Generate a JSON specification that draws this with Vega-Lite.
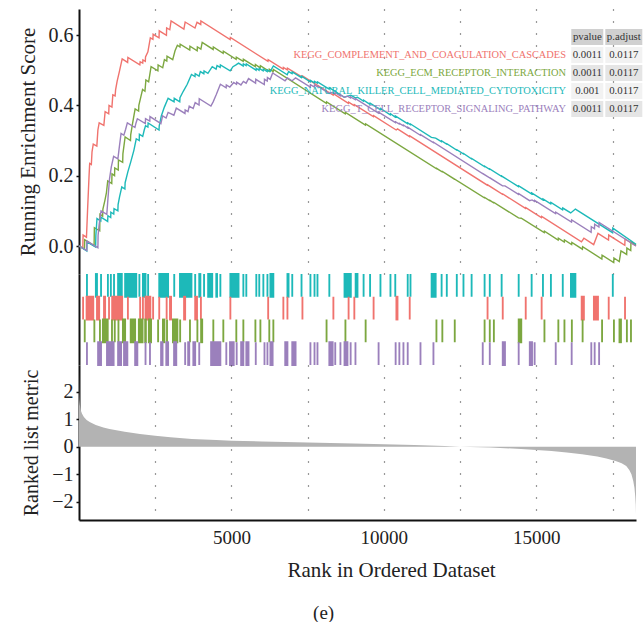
{
  "$schema": "https://vega.github.io/schema/vega-lite/v6.json",
  "padding": {"left": 17, "top": 9, "right": 0, "bottom": 0},
  "autosize": {"type": "pad"},
  "config": {
    "font": "Liberation Serif",
    "view": {"stroke": null},
    "axis": {"labelFont": "Liberation Serif", "titleFont": "Liberation Serif", "titleFontWeight": "normal", "labelColor": "#222222", "titleColor": "#222222"}
  },
  "spacing": 0,
  "bounds": "flush",
  "title": {"text": "(e)", "orient": "bottom", "anchor": "middle", "fontSize": 19, "font": "Liberation Serif", "fontWeight": "normal", "color": "#222222", "offset": 24, "dx": -6},
  "datasets": {
    "table": [
      {"row": 0, "code": "H", "set": "", "pvalue": "pvalue", "padjust": "p.adjust"},
      {"row": 1, "code": "C", "set": "KEGG_COMPLEMENT_AND_COAGULATION_CASCADES", "pvalue": "0.0011", "padjust": "0.0117"},
      {"row": 2, "code": "E", "set": "KEGG_ECM_RECEPTOR_INTERACTION", "pvalue": "0.0011", "padjust": "0.0117"},
      {"row": 3, "code": "N", "set": "KEGG_NATURAL_KILLER_CELL_MEDIATED_CYTOTOXICITY", "pvalue": "0.001", "padjust": "0.0117"},
      {"row": 4, "code": "T", "set": "KEGG_T_CELL_RECEPTOR_SIGNALING_PATHWAY", "pvalue": "0.0011", "padjust": "0.0117"}
    ],
    "es": [
      {"g":"C","rank":0,"es":0},{"g":"C","rank":125,"es":-0.006},{"g":"C","rank":134,"es":0.031},{"g":"C","rank":245,"es":0.025},{"g":"C","rank":280,"es":0.1},{"g":"C","rank":330,"es":0.2},{"g":"C","rank":350,"es":0.235},{"g":"C","rank":405,"es":0.232},{"g":"C","rank":427,"es":0.268},{"g":"C","rank":468,"es":0.29},{"g":"C","rank":585,"es":0.284},{"g":"C","rank":620,"es":0.33},{"g":"C","rank":662,"es":0.35},{"g":"C","rank":815,"es":0.343},{"g":"C","rank":857,"es":0.382},{"g":"C","rank":975,"es":0.376},{"g":"C","rank":985,"es":0.4},{"g":"C","rank":1080,"es":0.395},{"g":"C","rank":1110,"es":0.43},{"g":"C","rank":1185,"es":0.427},{"g":"C","rank":1200,"es":0.444},{"g":"C","rank":1250,"es":0.468},{"g":"C","rank":1324,"es":0.496},{"g":"C","rank":1416,"es":0.532},{"g":"C","rank":1595,"es":0.522},{"g":"C","rank":1604,"es":0.536},{"g":"C","rank":1995,"es":0.515},{"g":"C","rank":2006,"es":0.524},{"g":"C","rank":2090,"es":0.52},{"g":"C","rank":2097,"es":0.529},{"g":"C","rank":2175,"es":0.525},{"g":"C","rank":2182,"es":0.538},{"g":"C","rank":2260,"es":0.552},{"g":"C","rank":2340,"es":0.592},{"g":"C","rank":2425,"es":0.588},{"g":"C","rank":2431,"es":0.602},{"g":"C","rank":2625,"es":0.592},{"g":"C","rank":2632,"es":0.612},{"g":"C","rank":2868,"es":0.599},{"g":"C","rank":2875,"es":0.62},{"g":"C","rank":2978,"es":0.615},{"g":"C","rank":3020,"es":0.64},{"g":"C","rank":3440,"es":0.617},{"g":"C","rank":3482,"es":0.637},{"g":"C","rank":3805,"es":0.62},{"g":"C","rank":3871,"es":0.636},{"g":"C","rank":3993,"es":0.63},{"g":"C","rank":3999,"es":0.64},{"g":"C","rank":4958,"es":0.587},{"g":"C","rank":4965,"es":0.593},{"g":"C","rank":6198,"es":0.525},{"g":"C","rank":6205,"es":0.53},{"g":"C","rank":6696,"es":0.503},{"g":"C","rank":6703,"es":0.508},{"g":"C","rank":6830,"es":0.501},{"g":"C","rank":6837,"es":0.506},{"g":"C","rank":7322,"es":0.48},{"g":"C","rank":7329,"es":0.484},{"g":"C","rank":8337,"es":0.429},{"g":"C","rank":8344,"es":0.433},{"g":"C","rank":8836,"es":0.406},{"g":"C","rank":8843,"es":0.409},{"g":"C","rank":9024,"es":0.399},{"g":"C","rank":9031,"es":0.402},{"g":"C","rank":9656,"es":0.368},{"g":"C","rank":9663,"es":0.371},{"g":"C","rank":10404,"es":0.33},{"g":"C","rank":10447,"es":0.333},{"g":"C","rank":10841,"es":0.311},{"g":"C","rank":10848,"es":0.313},{"g":"C","rank":13394,"es":0.173},{"g":"C","rank":13401,"es":0.174},{"g":"C","rank":13892,"es":0.147},{"g":"C","rank":13899,"es":0.148},{"g":"C","rank":14646,"es":0.107},{"g":"C","rank":14653,"es":0.109},{"g":"C","rank":15168,"es":0.081},{"g":"C","rank":15175,"es":0.084},{"g":"C","rank":16481,"es":0.012},{"g":"C","rank":16561,"es":0.022},{"g":"C","rank":16882,"es":0.004},{"g":"C","rank":17023,"es":0.036},{"g":"C","rank":17368,"es":0.017},{"g":"C","rank":17375,"es":0.031},{"g":"C","rank":17903,"es":0.002},{"g":"C","rank":17910,"es":0.02},{"g":"C","rank":18270,"es":0.0},
      {"g":"E","rank":0,"es":0},{"g":"E","rank":180,"es":-0.009},{"g":"E","rank":188,"es":0.018},{"g":"E","rank":495,"es":0.001},{"g":"E","rank":504,"es":0.052},{"g":"E","rank":680,"es":0.043},{"g":"E","rank":687,"es":0.09},{"g":"E","rank":776,"es":0.085},{"g":"E","rank":784,"es":0.105},{"g":"E","rank":850,"es":0.13},{"g":"E","rank":900,"es":0.152},{"g":"E","rank":942,"es":0.185},{"g":"E","rank":1075,"es":0.178},{"g":"E","rank":1082,"es":0.205},{"g":"E","rank":1166,"es":0.2},{"g":"E","rank":1173,"es":0.222},{"g":"E","rank":1287,"es":0.216},{"g":"E","rank":1294,"es":0.245},{"g":"E","rank":1433,"es":0.238},{"g":"E","rank":1440,"es":0.262},{"g":"E","rank":1513,"es":0.31},{"g":"E","rank":1689,"es":0.3},{"g":"E","rank":1696,"es":0.316},{"g":"E","rank":1760,"es":0.35},{"g":"E","rank":1841,"es":0.39},{"g":"E","rank":1956,"es":0.384},{"g":"E","rank":1963,"es":0.4},{"g":"E","rank":2030,"es":0.425},{"g":"E","rank":2085,"es":0.445},{"g":"E","rank":2163,"es":0.44},{"g":"E","rank":2194,"es":0.472},{"g":"E","rank":2284,"es":0.467},{"g":"E","rank":2364,"es":0.51},{"g":"E","rank":2588,"es":0.498},{"g":"E","rank":2595,"es":0.515},{"g":"E","rank":2746,"es":0.507},{"g":"E","rank":2802,"es":0.53},{"g":"E","rank":2880,"es":0.526},{"g":"E","rank":2887,"es":0.54},{"g":"E","rank":3074,"es":0.53},{"g":"E","rank":3150,"es":0.555},{"g":"E","rank":3227,"es":0.571},{"g":"E","rank":3311,"es":0.566},{"g":"E","rank":3318,"es":0.574},{"g":"E","rank":3633,"es":0.557},{"g":"E","rank":3640,"es":0.568},{"g":"E","rank":3876,"es":0.555},{"g":"E","rank":3883,"es":0.566},{"g":"E","rank":3998,"es":0.56},{"g":"E","rank":4041,"es":0.579},{"g":"E","rank":4400,"es":0.559},{"g":"E","rank":4406,"es":0.566},{"g":"E","rank":4728,"es":0.548},{"g":"E","rank":4734,"es":0.554},{"g":"E","rank":5154,"es":0.531},{"g":"E","rank":5160,"es":0.537},{"g":"E","rank":5385,"es":0.525},{"g":"E","rank":5391,"es":0.531},{"g":"E","rank":5780,"es":0.51},{"g":"E","rank":5786,"es":0.516},{"g":"E","rank":5944,"es":0.507},{"g":"E","rank":5950,"es":0.513},{"g":"E","rank":6236,"es":0.497},{"g":"E","rank":6242,"es":0.503},{"g":"E","rank":6369,"es":0.496},{"g":"E","rank":6375,"es":0.502},{"g":"E","rank":8113,"es":0.406},{"g":"E","rank":8120,"es":0.41},{"g":"E","rank":8732,"es":0.376},{"g":"E","rank":8739,"es":0.38},{"g":"E","rank":9395,"es":0.344},{"g":"E","rank":9402,"es":0.347},{"g":"E","rank":11717,"es":0.22},{"g":"E","rank":11724,"es":0.221},{"g":"E","rank":11911,"es":0.211},{"g":"E","rank":11918,"es":0.212},{"g":"E","rank":12318,"es":0.19},{"g":"E","rank":12325,"es":0.19},{"g":"E","rank":13297,"es":0.137},{"g":"E","rank":13304,"es":0.138},{"g":"E","rank":13467,"es":0.129},{"g":"E","rank":13474,"es":0.13},{"g":"E","rank":13601,"es":0.123},{"g":"E","rank":13608,"es":0.124},{"g":"E","rank":14415,"es":0.08},{"g":"E","rank":14507,"es":0.079},{"g":"E","rank":15260,"es":0.038},{"g":"E","rank":15267,"es":0.042},{"g":"E","rank":15716,"es":0.017},{"g":"E","rank":15723,"es":0.022},{"g":"E","rank":15916,"es":0.011},{"g":"E","rank":15923,"es":0.017},{"g":"E","rank":16159,"es":0.004},{"g":"E","rank":16166,"es":0.01},{"g":"E","rank":16512,"es":-0.009},{"g":"E","rank":16519,"es":-0.002},{"g":"E","rank":17150,"es":-0.037},{"g":"E","rank":17157,"es":-0.026},{"g":"E","rank":17539,"es":-0.047},{"g":"E","rank":17546,"es":-0.034},{"g":"E","rank":17721,"es":-0.044},{"g":"E","rank":17777,"es":-0.014},{"g":"E","rank":17964,"es":-0.024},{"g":"E","rank":17971,"es":-0.006},{"g":"E","rank":18098,"es":-0.013},{"g":"E","rank":18105,"es":0.012},{"g":"E","rank":18270,"es":0.003},
      {"g":"N","rank":0,"es":0},{"g":"N","rank":255,"es":-0.014},{"g":"N","rank":261,"es":0.012},{"g":"N","rank":545,"es":-0.003},{"g":"N","rank":553,"es":0.03},{"g":"N","rank":590,"es":0.078},{"g":"N","rank":715,"es":0.071},{"g":"N","rank":723,"es":0.082},{"g":"N","rank":940,"es":0.07},{"g":"N","rank":948,"es":0.086},{"g":"N","rank":1040,"es":0.081},{"g":"N","rank":1045,"es":0.096},{"g":"N","rank":1140,"es":0.091},{"g":"N","rank":1149,"es":0.106},{"g":"N","rank":1275,"es":0.1},{"g":"N","rank":1282,"es":0.118},{"g":"N","rank":1330,"es":0.14},{"g":"N","rank":1404,"es":0.168},{"g":"N","rank":1505,"es":0.162},{"g":"N","rank":1513,"es":0.18},{"g":"N","rank":1600,"es":0.21},{"g":"N","rank":1700,"es":0.24},{"g":"N","rank":1800,"es":0.272},{"g":"N","rank":1878,"es":0.305},{"g":"N","rank":1975,"es":0.3},{"g":"N","rank":1981,"es":0.318},{"g":"N","rank":2090,"es":0.312},{"g":"N","rank":2140,"es":0.33},{"g":"N","rank":2182,"es":0.342},{"g":"N","rank":2260,"es":0.338},{"g":"N","rank":2267,"es":0.35},{"g":"N","rank":2625,"es":0.33},{"g":"N","rank":2632,"es":0.342},{"g":"N","rank":2700,"es":0.37},{"g":"N","rank":2800,"es":0.395},{"g":"N","rank":2923,"es":0.42},{"g":"N","rank":3118,"es":0.41},{"g":"N","rank":3124,"es":0.42},{"g":"N","rank":3305,"es":0.41},{"g":"N","rank":3312,"es":0.422},{"g":"N","rank":3420,"es":0.44},{"g":"N","rank":3550,"es":0.46},{"g":"N","rank":3689,"es":0.488},{"g":"N","rank":3805,"es":0.482},{"g":"N","rank":3811,"es":0.49},{"g":"N","rank":3938,"es":0.483},{"g":"N","rank":3981,"es":0.496},{"g":"N","rank":4095,"es":0.49},{"g":"N","rank":4102,"es":0.498},{"g":"N","rank":4229,"es":0.491},{"g":"N","rank":4370,"es":0.51},{"g":"N","rank":4496,"es":0.503},{"g":"N","rank":4528,"es":0.513},{"g":"N","rank":4630,"es":0.508},{"g":"N","rank":4637,"es":0.515},{"g":"N","rank":4958,"es":0.498},{"g":"N","rank":5050,"es":0.51},{"g":"N","rank":5150,"es":0.515},{"g":"N","rank":5233,"es":0.52},{"g":"N","rank":5385,"es":0.512},{"g":"N","rank":5391,"es":0.518},{"g":"N","rank":5481,"es":0.513},{"g":"N","rank":5488,"es":0.518},{"g":"N","rank":5809,"es":0.5},{"g":"N","rank":5816,"es":0.505},{"g":"N","rank":5906,"es":0.5},{"g":"N","rank":5913,"es":0.505},{"g":"N","rank":6040,"es":0.498},{"g":"N","rank":6047,"es":0.503},{"g":"N","rank":6174,"es":0.496},{"g":"N","rank":6181,"es":0.501},{"g":"N","rank":6271,"es":0.496},{"g":"N","rank":6375,"es":0.512},{"g":"N","rank":6830,"es":0.487},{"g":"N","rank":6874,"es":0.496},{"g":"N","rank":6988,"es":0.49},{"g":"N","rank":6995,"es":0.495},{"g":"N","rank":7292,"es":0.479},{"g":"N","rank":7299,"es":0.483},{"g":"N","rank":7584,"es":0.467},{"g":"N","rank":7591,"es":0.471},{"g":"N","rank":7718,"es":0.464},{"g":"N","rank":7725,"es":0.468},{"g":"N","rank":7815,"es":0.463},{"g":"N","rank":7822,"es":0.467},{"g":"N","rank":8204,"es":0.446},{"g":"N","rank":8211,"es":0.45},{"g":"N","rank":8702,"es":0.423},{"g":"N","rank":8916,"es":0.429},{"g":"N","rank":9067,"es":0.421},{"g":"N","rank":9135,"es":0.423},{"g":"N","rank":9328,"es":0.412},{"g":"N","rank":9335,"es":0.415},{"g":"N","rank":9541,"es":0.403},{"g":"N","rank":9548,"es":0.406},{"g":"N","rank":9881,"es":0.388},{"g":"N","rank":9888,"es":0.391},{"g":"N","rank":10209,"es":0.373},{"g":"N","rank":10216,"es":0.376},{"g":"N","rank":10367,"es":0.367},{"g":"N","rank":10374,"es":0.37},{"g":"N","rank":10775,"es":0.348},{"g":"N","rank":10782,"es":0.35},{"g":"N","rank":10866,"es":0.345},{"g":"N","rank":10873,"es":0.347},{"g":"N","rank":11559,"es":0.309},{"g":"N","rank":11699,"es":0.307},{"g":"N","rank":11887,"es":0.297},{"g":"N","rank":11894,"es":0.299},{"g":"N","rank":12057,"es":0.29},{"g":"N","rank":12064,"es":0.291},{"g":"N","rank":12385,"es":0.273},{"g":"N","rank":12392,"es":0.274},{"g":"N","rank":12604,"es":0.262},{"g":"N","rank":12611,"es":0.263},{"g":"N","rank":12871,"es":0.248},{"g":"N","rank":12878,"es":0.249},{"g":"N","rank":13297,"es":0.226},{"g":"N","rank":13304,"es":0.227},{"g":"N","rank":13467,"es":0.218},{"g":"N","rank":13474,"es":0.219},{"g":"N","rank":13856,"es":0.198},{"g":"N","rank":13863,"es":0.199},{"g":"N","rank":14415,"es":0.169},{"g":"N","rank":14422,"es":0.171},{"g":"N","rank":14840,"es":0.148},{"g":"N","rank":14847,"es":0.151},{"g":"N","rank":15211,"es":0.131},{"g":"N","rank":15218,"es":0.134},{"g":"N","rank":15472,"es":0.12},{"g":"N","rank":15479,"es":0.124},{"g":"N","rank":15861,"es":0.103},{"g":"N","rank":15868,"es":0.108},{"g":"N","rank":16129,"es":0.094},{"g":"N","rank":16282,"es":0.105},{"g":"N","rank":17502,"es":0.038},{"g":"N","rank":17509,"es":0.051},{"g":"N","rank":18270,"es":0.005},
      {"g":"T","rank":0,"es":0},{"g":"T","rank":255,"es":-0.013},{"g":"T","rank":261,"es":0.014},{"g":"T","rank":620,"es":-0.005},{"g":"T","rank":626,"es":0.03},{"g":"T","rank":660,"es":0.06},{"g":"T","rank":723,"es":0.1},{"g":"T","rank":912,"es":0.09},{"g":"T","rank":950,"es":0.135},{"g":"T","rank":1000,"es":0.19},{"g":"T","rank":1060,"es":0.225},{"g":"T","rank":1136,"es":0.255},{"g":"T","rank":1276,"es":0.248},{"g":"T","rank":1320,"es":0.28},{"g":"T","rank":1380,"es":0.32},{"g":"T","rank":1471,"es":0.315},{"g":"T","rank":1530,"es":0.332},{"g":"T","rank":1586,"es":0.35},{"g":"T","rank":1835,"es":0.337},{"g":"T","rank":1870,"es":0.35},{"g":"T","rank":1914,"es":0.362},{"g":"T","rank":2176,"es":0.348},{"g":"T","rank":2182,"es":0.362},{"g":"T","rank":2322,"es":0.355},{"g":"T","rank":2328,"es":0.368},{"g":"T","rank":2686,"es":0.348},{"g":"T","rank":2741,"es":0.37},{"g":"T","rank":2857,"es":0.364},{"g":"T","rank":2923,"es":0.38},{"g":"T","rank":3112,"es":0.372},{"g":"T","rank":3191,"es":0.392},{"g":"T","rank":3476,"es":0.377},{"g":"T","rank":3482,"es":0.387},{"g":"T","rank":3575,"es":0.382},{"g":"T","rank":3616,"es":0.398},{"g":"T","rank":3745,"es":0.391},{"g":"T","rank":3811,"es":0.408},{"g":"T","rank":3938,"es":0.401},{"g":"T","rank":3944,"es":0.419},{"g":"T","rank":4327,"es":0.398},{"g":"T","rank":4400,"es":0.41},{"g":"T","rank":4500,"es":0.43},{"g":"T","rank":4637,"es":0.46},{"g":"T","rank":4826,"es":0.45},{"g":"T","rank":4832,"es":0.458},{"g":"T","rank":4947,"es":0.452},{"g":"T","rank":5075,"es":0.465},{"g":"T","rank":5166,"es":0.46},{"g":"T","rank":5172,"es":0.466},{"g":"T","rank":5312,"es":0.458},{"g":"T","rank":5391,"es":0.468},{"g":"T","rank":5482,"es":0.463},{"g":"T","rank":5561,"es":0.476},{"g":"T","rank":5792,"es":0.463},{"g":"T","rank":5798,"es":0.474},{"g":"T","rank":6078,"es":0.459},{"g":"T","rank":6084,"es":0.474},{"g":"T","rank":6175,"es":0.469},{"g":"T","rank":6181,"es":0.479},{"g":"T","rank":6272,"es":0.474},{"g":"T","rank":6351,"es":0.492},{"g":"T","rank":6758,"es":0.47},{"g":"T","rank":6837,"es":0.478},{"g":"T","rank":6989,"es":0.47},{"g":"T","rank":7104,"es":0.478},{"g":"T","rank":7585,"es":0.452},{"g":"T","rank":7591,"es":0.459},{"g":"T","rank":7719,"es":0.452},{"g":"T","rank":7725,"es":0.458},{"g":"T","rank":7816,"es":0.453},{"g":"T","rank":7822,"es":0.455},{"g":"T","rank":8205,"es":0.434},{"g":"T","rank":8320,"es":0.437},{"g":"T","rank":8399,"es":0.433},{"g":"T","rank":8405,"es":0.436},{"g":"T","rank":8569,"es":0.427},{"g":"T","rank":8575,"es":0.43},{"g":"T","rank":8703,"es":0.423},{"g":"T","rank":8806,"es":0.426},{"g":"T","rank":8904,"es":0.421},{"g":"T","rank":8910,"es":0.424},{"g":"T","rank":9062,"es":0.416},{"g":"T","rank":9068,"es":0.419},{"g":"T","rank":9821,"es":0.378},{"g":"T","rank":9827,"es":0.381},{"g":"T","rank":10380,"es":0.351},{"g":"T","rank":10386,"es":0.353},{"g":"T","rank":10502,"es":0.347},{"g":"T","rank":10508,"es":0.349},{"g":"T","rank":10636,"es":0.342},{"g":"T","rank":10642,"es":0.344},{"g":"T","rank":10776,"es":0.336},{"g":"T","rank":10782,"es":0.338},{"g":"T","rank":11195,"es":0.315},{"g":"T","rank":11201,"es":0.317},{"g":"T","rank":11620,"es":0.294},{"g":"T","rank":11626,"es":0.295},{"g":"T","rank":13237,"es":0.206},{"g":"T","rank":13243,"es":0.206},{"g":"T","rank":13468,"es":0.194},{"g":"T","rank":13474,"es":0.194},{"g":"T","rank":13893,"es":0.171},{"g":"T","rank":13972,"es":0.171},{"g":"T","rank":14416,"es":0.147},{"g":"T","rank":14422,"es":0.149},{"g":"T","rank":14780,"es":0.129},{"g":"T","rank":14860,"es":0.131},{"g":"T","rank":14939,"es":0.127},{"g":"T","rank":14945,"es":0.13},{"g":"T","rank":15631,"es":0.092},{"g":"T","rank":15637,"es":0.096},{"g":"T","rank":16154,"es":0.068},{"g":"T","rank":16160,"es":0.074},{"g":"T","rank":16798,"es":0.039},{"g":"T","rank":16804,"es":0.055},{"g":"T","rank":16908,"es":0.049},{"g":"T","rank":16914,"es":0.062},{"g":"T","rank":17054,"es":0.054},{"g":"T","rank":17060,"es":0.067},{"g":"T","rank":18270,"es":0.0}
    ],
    "rug": [
      {"g":"N","start":261,"end":261},{"g":"N","start":553,"end":590},{"g":"N","start":723,"end":723},{"g":"N","start":948,"end":948},{"g":"N","start":1045,"end":1045},{"g":"N","start":1149,"end":1149},{"g":"N","start":1282,"end":1404},{"g":"N","start":1513,"end":1878},{"g":"N","start":1981,"end":1981},{"g":"N","start":2097,"end":2182},{"g":"N","start":2267,"end":2267},{"g":"N","start":2632,"end":2923},{"g":"N","start":3124,"end":3124},{"g":"N","start":3312,"end":3689},{"g":"N","start":3811,"end":3811},{"g":"N","start":3944,"end":3981},{"g":"N","start":4102,"end":4102},{"g":"N","start":4236,"end":4370},{"g":"N","start":4503,"end":4528},{"g":"N","start":4637,"end":4637},{"g":"N","start":4965,"end":5233},{"g":"N","start":5391,"end":5391},{"g":"N","start":5488,"end":5488},{"g":"N","start":5816,"end":5816},{"g":"N","start":5913,"end":5913},{"g":"N","start":6047,"end":6047},{"g":"N","start":6181,"end":6181},{"g":"N","start":6278,"end":6375},{"g":"N","start":6837,"end":6874},{"g":"N","start":6995,"end":6995},{"g":"N","start":7299,"end":7299},{"g":"N","start":7591,"end":7591},{"g":"N","start":7725,"end":7725},{"g":"N","start":7822,"end":7822},{"g":"N","start":8211,"end":8211},{"g":"N","start":8709,"end":8916},{"g":"N","start":9074,"end":9135},{"g":"N","start":9335,"end":9335},{"g":"N","start":9548,"end":9548},{"g":"N","start":9888,"end":9888},{"g":"N","start":10216,"end":10216},{"g":"N","start":10374,"end":10374},{"g":"N","start":10782,"end":10782},{"g":"N","start":10873,"end":10873},{"g":"N","start":11566,"end":11699},{"g":"N","start":11894,"end":11894},{"g":"N","start":12064,"end":12064},{"g":"N","start":12392,"end":12392},{"g":"N","start":12611,"end":12611},{"g":"N","start":12878,"end":12878},{"g":"N","start":13304,"end":13304},{"g":"N","start":13474,"end":13474},{"g":"N","start":13863,"end":13863},{"g":"N","start":14422,"end":14422},{"g":"N","start":14847,"end":14847},{"g":"N","start":15218,"end":15218},{"g":"N","start":15479,"end":15479},{"g":"N","start":15868,"end":15868},{"g":"N","start":16136,"end":16282},{"g":"N","start":17509,"end":17509},
      {"g":"C","start":134,"end":134},{"g":"C","start":249,"end":468},{"g":"C","start":590,"end":662},{"g":"C","start":820,"end":857},{"g":"C","start":985,"end":985},{"g":"C","start":1088,"end":1416},{"g":"C","start":1604,"end":1604},{"g":"C","start":2006,"end":2006},{"g":"C","start":2097,"end":2097},{"g":"C","start":2182,"end":2340},{"g":"C","start":2431,"end":2431},{"g":"C","start":2632,"end":2632},{"g":"C","start":2875,"end":2875},{"g":"C","start":2984,"end":3020},{"g":"C","start":3446,"end":3482},{"g":"C","start":3811,"end":3871},{"g":"C","start":3999,"end":3999},{"g":"C","start":4965,"end":4965},{"g":"C","start":6205,"end":6205},{"g":"C","start":6703,"end":6703},{"g":"C","start":6837,"end":6837},{"g":"C","start":7329,"end":7329},{"g":"C","start":8344,"end":8344},{"g":"C","start":8843,"end":8843},{"g":"C","start":9031,"end":9031},{"g":"C","start":9663,"end":9663},{"g":"C","start":10411,"end":10447},{"g":"C","start":10848,"end":10848},{"g":"C","start":13401,"end":13401},{"g":"C","start":13899,"end":13899},{"g":"C","start":14653,"end":14653},{"g":"C","start":15175,"end":15175},{"g":"C","start":16488,"end":16561},{"g":"C","start":16889,"end":17023},{"g":"C","start":17375,"end":17375},{"g":"C","start":17910,"end":17910},
      {"g":"E","start":188,"end":188},{"g":"E","start":504,"end":504},{"g":"E","start":687,"end":687},{"g":"E","start":784,"end":942},{"g":"E","start":1082,"end":1082},{"g":"E","start":1173,"end":1173},{"g":"E","start":1294,"end":1294},{"g":"E","start":1440,"end":1513},{"g":"E","start":1696,"end":1841},{"g":"E","start":1963,"end":2085},{"g":"E","start":2170,"end":2194},{"g":"E","start":2291,"end":2364},{"g":"E","start":2595,"end":2595},{"g":"E","start":2753,"end":2802},{"g":"E","start":2887,"end":2887},{"g":"E","start":3081,"end":3227},{"g":"E","start":3318,"end":3318},{"g":"E","start":3640,"end":3640},{"g":"E","start":3883,"end":3883},{"g":"E","start":4005,"end":4041},{"g":"E","start":4406,"end":4406},{"g":"E","start":4734,"end":4734},{"g":"E","start":5160,"end":5160},{"g":"E","start":5391,"end":5391},{"g":"E","start":5786,"end":5786},{"g":"E","start":5950,"end":5950},{"g":"E","start":6242,"end":6242},{"g":"E","start":6375,"end":6375},{"g":"E","start":8120,"end":8120},{"g":"E","start":8739,"end":8739},{"g":"E","start":9402,"end":9402},{"g":"E","start":11724,"end":11724},{"g":"E","start":11918,"end":11918},{"g":"E","start":12325,"end":12325},{"g":"E","start":13304,"end":13304},{"g":"E","start":13474,"end":13474},{"g":"E","start":13608,"end":13608},{"g":"E","start":14422,"end":14507},{"g":"E","start":15267,"end":15267},{"g":"E","start":15723,"end":15723},{"g":"E","start":15923,"end":15923},{"g":"E","start":16166,"end":16166},{"g":"E","start":16519,"end":16519},{"g":"E","start":17157,"end":17157},{"g":"E","start":17546,"end":17546},{"g":"E","start":17728,"end":17777},{"g":"E","start":17971,"end":17971},{"g":"E","start":18105,"end":18105},
      {"g":"T","start":261,"end":261},{"g":"T","start":626,"end":723},{"g":"T","start":918,"end":1136},{"g":"T","start":1282,"end":1380},{"g":"T","start":1477,"end":1586},{"g":"T","start":1841,"end":1914},{"g":"T","start":2182,"end":2182},{"g":"T","start":2328,"end":2328},{"g":"T","start":2692,"end":2741},{"g":"T","start":2863,"end":2923},{"g":"T","start":3118,"end":3191},{"g":"T","start":3482,"end":3482},{"g":"T","start":3580,"end":3616},{"g":"T","start":3750,"end":3811},{"g":"T","start":3944,"end":3944},{"g":"T","start":4333,"end":4637},{"g":"T","start":4832,"end":4832},{"g":"T","start":4953,"end":5075},{"g":"T","start":5172,"end":5172},{"g":"T","start":5318,"end":5391},{"g":"T","start":5488,"end":5561},{"g":"T","start":5798,"end":5798},{"g":"T","start":6084,"end":6084},{"g":"T","start":6181,"end":6181},{"g":"T","start":6278,"end":6351},{"g":"T","start":6764,"end":6837},{"g":"T","start":6995,"end":7104},{"g":"T","start":7591,"end":7591},{"g":"T","start":7725,"end":7725},{"g":"T","start":7822,"end":7822},{"g":"T","start":8211,"end":8320},{"g":"T","start":8405,"end":8405},{"g":"T","start":8575,"end":8575},{"g":"T","start":8709,"end":8806},{"g":"T","start":8910,"end":8910},{"g":"T","start":9068,"end":9068},{"g":"T","start":9827,"end":9827},{"g":"T","start":10386,"end":10386},{"g":"T","start":10508,"end":10508},{"g":"T","start":10642,"end":10642},{"g":"T","start":10782,"end":10782},{"g":"T","start":11201,"end":11201},{"g":"T","start":11626,"end":11626},{"g":"T","start":13243,"end":13243},{"g":"T","start":13474,"end":13474},{"g":"T","start":13899,"end":13972},{"g":"T","start":14422,"end":14422},{"g":"T","start":14786,"end":14860},{"g":"T","start":14945,"end":14945},{"g":"T","start":15637,"end":15637},{"g":"T","start":16160,"end":16160},{"g":"T","start":16804,"end":16804},{"g":"T","start":16914,"end":16914},{"g":"T","start":17060,"end":17060}
    ],
    "metric": [
      {"rank":0,"metric":2.75},{"rank":6,"metric":2.0},{"rank":14,"metric":1.72},{"rank":30,"metric":1.5},{"rank":60,"metric":1.32},{"rank":100,"metric":1.2},{"rank":160,"metric":1.08},{"rank":250,"metric":0.97},{"rank":350,"metric":0.9},{"rank":550,"metric":0.79},{"rank":800,"metric":0.7},{"rank":1000,"metric":0.64},{"rank":1500,"metric":0.54},{"rank":2000,"metric":0.46},{"rank":2500,"metric":0.4},{"rank":3000,"metric":0.34},{"rank":3700,"metric":0.28},{"rank":4500,"metric":0.24},{"rank":5000,"metric":0.22},{"rank":6000,"metric":0.19},{"rank":7500,"metric":0.155},{"rank":9000,"metric":0.12},{"rank":10000,"metric":0.09},{"rank":11000,"metric":0.06},{"rank":12000,"metric":0.03},{"rank":12500,"metric":0.0},{"rank":13500,"metric":-0.03},{"rank":14500,"metric":-0.08},{"rank":15000,"metric":-0.12},{"rank":15500,"metric":-0.16},{"rank":16000,"metric":-0.21},{"rank":16500,"metric":-0.27},{"rank":17000,"metric":-0.36},{"rank":17300,"metric":-0.43},{"rank":17600,"metric":-0.52},{"rank":17800,"metric":-0.6},{"rank":17950,"metric":-0.7},{"rank":18050,"metric":-0.85},{"rank":18120,"metric":-1.0},{"rank":18180,"metric":-1.25},{"rank":18220,"metric":-1.5},{"rank":18245,"metric":-1.8},{"rank":18262,"metric":-2.1},{"rank":18270,"metric":-2.45}
    ]
  },
  "vconcat": [
    {
      "width": 557,
      "height": 265,
      "layer": [
        {
          "data": {"name": "es"},
          "mark": {"type": "line", "strokeWidth": 1.4},
          "encoding": {
            "x": {"field": "rank", "type": "quantitative", "scale": {"domain": [0, 18270], "nice": false, "zero": false},
              "axis": {"values": [2500, 5000, 7500, 10000, 12500, 15000, 17500], "grid": true, "gridDash": [1, 11], "gridColor": "#333333", "gridWidth": 1.2, "labels": false, "ticks": false, "domain": false, "title": null}},
            "y": {"field": "es", "type": "quantitative", "scale": {"domain": [-0.0796, 0.674], "nice": false, "zero": false},
              "axis": {"values": [0, 0.2, 0.4, 0.6], "format": ".1f", "title": "Running Enrichment Score", "titleFontSize": 21, "labelFontSize": 20, "grid": false, "domainColor": "#111111", "domainWidth": 2, "tickColor": "#111111", "tickSize": 3, "tickWidth": 1.5, "labelPadding": 3, "titlePadding": 10}},
            "color": {"field": "g", "type": "nominal", "scale": {"domain": ["C", "E", "N", "T"], "range": ["#F0736E", "#7CA740", "#1DB9B9", "#9B80BC"]}, "legend": null}
          }
        },
        {
          "data": {"name": "table"},
          "encoding": {
            "y": {"field": "row", "type": "quantitative", "scale": {"domain": [-1.556, 13.17], "reverse": true, "nice": false, "zero": false}, "axis": null}
          },
          "layer": [
            {
              "mark": {"type": "rect", "height": 16, "clip": false},
              "encoding": {
                "x": {"datum": 16147}, "x2": {"datum": 17197},
                "fill": {"field": "row", "type": "ordinal", "scale": {"domain": [0, 1, 2, 3, 4], "range": ["#D0D0D0", "#F2F2F2", "#E5E5E5", "#F2F2F2", "#E5E5E5"]}, "legend": null}
              }
            },
            {
              "mark": {"type": "rect", "height": 16, "clip": false},
              "encoding": {
                "x": {"datum": 17263}, "x2": {"datum": 18477},
                "fill": {"field": "row", "type": "ordinal", "scale": {"domain": [0, 1, 2, 3, 4], "range": ["#D0D0D0", "#F2F2F2", "#E5E5E5", "#F2F2F2", "#E5E5E5"]}, "legend": null}
              }
            },
            {
              "mark": {"type": "text", "fontSize": 10.8, "font": "Liberation Serif", "color": "#333333", "baseline": "middle", "clip": false},
              "encoding": {"x": {"datum": 16672}, "text": {"field": "pvalue"}}
            },
            {
              "mark": {"type": "text", "fontSize": 10.8, "font": "Liberation Serif", "color": "#333333", "baseline": "middle", "clip": false},
              "encoding": {"x": {"datum": 17870}, "text": {"field": "padjust"}}
            },
            {
              "transform": [{"filter": "datum.row > 0"}],
              "mark": {"type": "text", "fontSize": 10.4, "font": "Liberation Serif", "align": "right", "baseline": "middle", "clip": false},
              "encoding": {
                "x": {"datum": 15974}, "text": {"field": "set"},
                "color": {"field": "code", "type": "nominal", "scale": {"domain": ["C", "E", "N", "T"], "range": ["#F0736E", "#7CA740", "#1DB9B9", "#9B80BC"]}, "legend": null}
              }
            }
          ]
        }
      ],
      "resolve": {"scale": {"y": "independent"}, "axis": {"y": "independent"}}
    },
    {
      "width": 557,
      "height": 91,
      "data": {"name": "rug"},
      "mark": {"type": "rect", "strokeWidth": 1.85},
      "encoding": {
        "x": {"field": "start", "type": "quantitative", "scale": {"domain": [0, 18270], "nice": false, "zero": false}, "axis": null},
        "x2": {"field": "end"},
        "y": {"field": "g", "type": "nominal", "sort": ["N", "C", "E", "T"], "scale": {"paddingInner": 0, "paddingOuter": 0},
          "axis": {"labels": false, "ticks": false, "title": null, "grid": false, "domainColor": "#111111", "domainWidth": 2}},
        "color": {"field": "g", "type": "nominal", "scale": {"domain": ["C", "E", "N", "T"], "range": ["#F0736E", "#7CA740", "#1DB9B9", "#9B80BC"]}, "legend": null},
        "stroke": {"field": "g", "type": "nominal", "scale": {"domain": ["C", "E", "N", "T"], "range": ["#F0736E", "#7CA740", "#1DB9B9", "#9B80BC"]}, "legend": null}
      }
    },
    {
      "width": 557,
      "height": 155,
      "data": {"name": "metric"},
      "mark": {"type": "area", "color": "#B3B3B3"},
      "encoding": {
        "x": {"field": "rank", "type": "quantitative", "scale": {"domain": [0, 18270], "nice": false, "zero": false},
          "axis": {"values": [2500, 5000, 7500, 10000, 12500, 15000, 17500], "labelExpr": "datum.value % 5000 === 0 ? datum.label : ''", "format": "d", "grid": true, "gridDash": [1, 11], "gridColor": "#333333", "gridWidth": 1.2, "ticks": false, "domainColor": "#111111", "domainWidth": 2, "labelFontSize": 19, "labelPadding": 8, "labelFlush": false, "title": "Rank in Ordered Dataset", "titleFontSize": 21, "titlePadding": 12, "titleX": 312}},
        "y": {"field": "metric", "type": "quantitative", "scale": {"domain": [-2.665, 2.971], "nice": false, "zero": false},
          "axis": {"values": [-2, -1, 0, 1, 2], "title": "Ranked list metric", "titleFontSize": 20, "labelFontSize": 20, "grid": false, "domainColor": "#111111", "domainWidth": 2, "tickColor": "#111111", "tickSize": 3, "tickWidth": 1.5, "labelPadding": 3, "titlePadding": 10}},
        "y2": {"datum": 0}
      }
    }
  ]
}
